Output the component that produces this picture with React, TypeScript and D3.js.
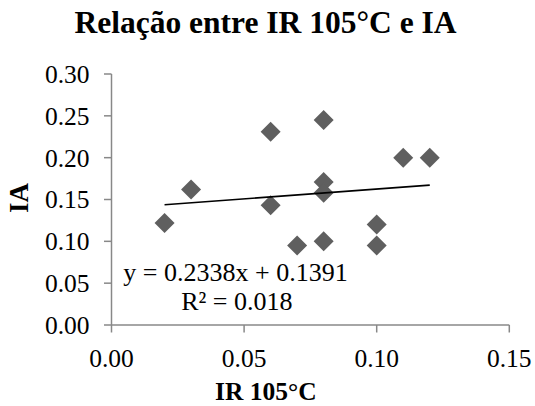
import React from "react";
import * as d3 from "d3";

const irValues = [0.02, 0.03, 0.06, 0.06, 0.07, 0.08, 0.08, 0.08, 0.08, 0.1, 0.1, 0.11, 0.12];
const iaValues = [0.122, 0.162, 0.231, 0.143, 0.095, 0.245, 0.171, 0.158, 0.1, 0.12, 0.095, 0.2, 0.2];
const xTicks = [0, 0.05, 0.1, 0.15];
const yTicks = [0, 0.05, 0.1, 0.15, 0.2, 0.25, 0.3];
const slope = 0.2338;
const intercept = 0.1391;
const trendRange = [0.02, 0.12];

const W = 535;
const H = 406;
const serif = "'Liberation Serif', 'Times New Roman', serif";

export default function App() {
  const x = d3.scaleLinear().domain([0, 0.15]).range([111.5, 509.3]);
  const y = d3.scaleLinear().domain([0, 0.3]).range([325, 74]);
  const axisColor = "#888888";
  const line = d3
    .line<number>()
    .x((d) => x(d))
    .y((d) => y(slope * d + intercept));
  const diamond = d3.symbol().type(d3.symbolSquare).size(200)();
  const pts = irValues.map((v, i) => [v, iaValues[i]] as [number, number]);
  return (
    <svg
      width={W}
      height={H}
      style={{ position: "absolute", left: 0, top: 0, background: "#fff" }}
      fontFamily={serif}
    >
      <rect width={W} height={H} fill="#fff" />
      <text x={265.5} y={33.3} textAnchor="middle" fontSize={31.5} fontWeight="bold">
        Relação entre IR 105°C e IA
      </text>
      {/* axes */}
      <line x1={x(0)} x2={x(0)} y1={y(0.3)} y2={y(0)} stroke={axisColor} strokeWidth={1.5} />
      <line x1={x(0)} x2={x(0.15)} y1={y(0)} y2={y(0)} stroke={axisColor} strokeWidth={1.5} />
      {yTicks.map((t) => (
        <g key={"y" + t}>
          <line x1={x(0) - 7.5} x2={x(0)} y1={y(t)} y2={y(t)} stroke={axisColor} strokeWidth={1.5} />
          <text x={89.5} y={y(t)} dy="0.35em" textAnchor="end" fontSize={25.5}>
            {d3.format(".2f")(t)}
          </text>
        </g>
      ))}
      {xTicks.map((t) => (
        <g key={"x" + t}>
          <line x1={x(t)} x2={x(t)} y1={y(0)} y2={y(0) + 7.5} stroke={axisColor} strokeWidth={1.5} />
          <text x={x(t)} y={366.7} textAnchor="middle" fontSize={25.5}>
            {d3.format(".2f")(t)}
          </text>
        </g>
      ))}
      <text x={265.8} y={400} textAnchor="middle" fontSize={25.5} fontWeight="bold">
        IR 105°C
      </text>
      <text
        transform={`translate(28,198) rotate(-90)`}
        textAnchor="middle"
        fontSize={27}
        fontWeight="bold"
      >
        IA
      </text>
      {/* points */}
      {pts.map((p, i) => (
        <path
          key={i}
          d={diamond || ""}
          transform={`translate(${x(p[0])},${y(p[1])}) rotate(45)`}
          fill="#5f5f5f"
        />
      ))}
      {/* trendline */}
      <path d={line(trendRange) || ""} fill="none" stroke="#000" strokeWidth={1.6} />
      <text x={235.5} y={280.7} textAnchor="middle" fontSize={26}>
        y = 0.2338x + 0.1391
      </text>
      <text x={236.8} y={310} textAnchor="middle" fontSize={26}>
        R² = 0.018
      </text>
    </svg>
  );
}
